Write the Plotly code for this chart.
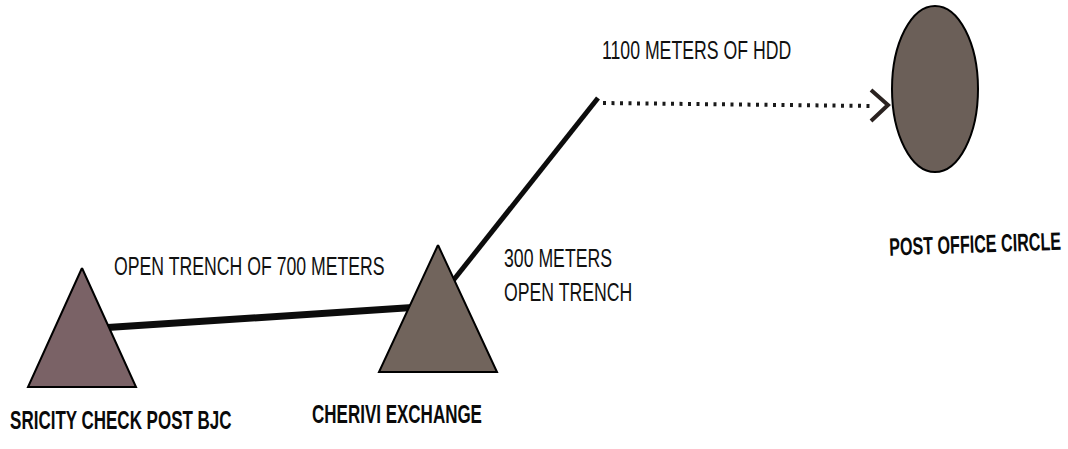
import json
import plotly.graph_objects as go

# ---- data ----
node_names = ["SRICITY CHECK POST BJC", "CHERIVI EXCHANGE", "POST OFFICE CIRCLE"]
node_kind = ["triangle", "triangle", "ellipse"]
# node anchor (centre-x, apex/top-y, base/bottom-y, half-width) in page pixels
node_cx = [82, 438, 935]
node_top = [268, 245, 6]
node_bottom = [387, 372, 172]
node_halfw = [54, 59, 43]

segment_labels = ["OPEN TRENCH OF 700 METERS", "300 METERS<br>OPEN TRENCH", "1100 METERS OF HDD"]
segment_lengths_m = [700, 300, 1100]

# polyline route of the cable
route1_x = [100, 420]
route1_y = [328, 307]
route2_x = [448, 598]
route2_y = [287, 98]
route3_x = [603, 873]
route3_y = [103, 106]
arrow_x = [871, 888, 871]
arrow_y = [90, 105, 121]

label_x = [112, 502, 600]
label_y = [266, 275, 50]
name_x = [8, 310, 887]
name_y = [420, 414, 242]

FONT = "Liberation Sans, Arial, sans-serif"
FILLS = ["#7a6266", "#71645c", "#6b5f58"]
# horizontal squeeze per label (segment labels first, then node names)
SQUEEZE = [0.68, 0.68, 0.68, 0.68, 0.68, 0.645]

fig = go.Figure()

# cable segments
fig.add_trace(go.Scatter(x=route1_x, y=route1_y, mode="lines",
                         line=dict(color="#0c0c0c", width=7), hoverinfo="skip"))
fig.add_trace(go.Scatter(x=route2_x, y=route2_y, mode="lines",
                         line=dict(color="#0c0c0c", width=5), hoverinfo="skip"))
fig.add_trace(go.Scatter(x=route3_x, y=route3_y, mode="lines",
                         line=dict(color="#1a1a1a", width=4, dash="3px,5.5px"), hoverinfo="skip"))
fig.add_trace(go.Scatter(x=arrow_x, y=arrow_y, mode="lines",
                         line=dict(color="#2a2220", width=4), hoverinfo="skip"))

# nodes
for i, kind in enumerate(node_kind):
    if kind == "triangle":
        cx, t, b, hw = node_cx[i], node_top[i], node_bottom[i], node_halfw[i]
        fig.add_trace(go.Scatter(x=[cx, cx + hw, cx - hw, cx], y=[t, b, b, t],
                                 mode="lines", fill="toself", fillcolor=FILLS[i],
                                 line=dict(color="#000000", width=2), hoverinfo="skip"))
    else:
        fig.add_shape(type="circle", xref="x", yref="y",
                      x0=node_cx[i] - node_halfw[i], x1=node_cx[i] + node_halfw[i],
                      y0=node_top[i], y1=node_bottom[i],
                      fillcolor=FILLS[i], line=dict(color="#000000", width=2))

# labels
for i, txt in enumerate(segment_labels):
    fig.add_annotation(x=label_x[i], y=label_y[i], text=txt, showarrow=False,
                       xanchor="left", yanchor="middle", align="left",
                       font=dict(family=FONT, size=26, color="#111111"))
for i, txt in enumerate(node_names):
    fig.add_annotation(x=name_x[i], y=name_y[i], text="<b>" + txt + "</b>", showarrow=False,
                       xanchor="left", yanchor="middle",
                       textangle=-2 if i == 2 else 0,
                       font=dict(family=FONT, size=25, color="#0a0a0a"))

fig.update_layout(
    width=1068, height=449,
    margin=dict(l=0, r=0, t=0, b=0),
    paper_bgcolor="#ffffff", plot_bgcolor="#ffffff",
    showlegend=False,
    xaxis=dict(range=[0, 1068], visible=False, fixedrange=True),
    yaxis=dict(range=[449, 0], visible=False, fixedrange=True),
)

# condensed lettering like the scanned original: squeeze each label horizontally
post = """
document.body.style.margin = '0';
var gd = document.getElementById('{plot_id}');
var sq = %s;
gd.querySelectorAll('text.annotation-text').forEach(function(t, i){
  var bb = t.getBBox();
  var s = sq[i] || 0.68;
  t.setAttribute('transform', 'translate(' + bb.x + ',0) scale(' + s + ',1) translate(' + (-bb.x) + ',0)');
});
""" % json.dumps(SQUEEZE)

fig.write_html("out.html", config={"displayModeBar": False}, post_script=post)
